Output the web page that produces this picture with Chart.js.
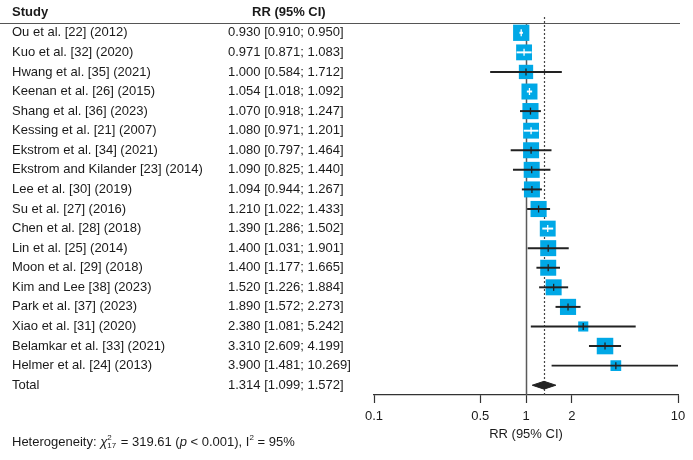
<!DOCTYPE html>
<html>
<head>
<meta charset="utf-8">
<script src="https://cdn.jsdelivr.net/npm/chart.js@4/dist/chart.umd.min.js"></script>
<style>
  html, body { margin: 0; padding: 0; background: #fff; }
  canvas { display: block; }
</style>
</head>
<body>
<canvas id="forest" width="693" height="460"></canvas>
<script>
// study rows, top to bottom
let studies = [
    'Ou et al. [22] (2012)', 'Kuo et al. [32] (2020)', 'Hwang et al. [35] (2021)',
    'Keenan et al. [26] (2015)', 'Shang et al. [36] (2023)', 'Kessing et al. [21] (2007)',
    'Ekstrom et al. [34] (2021)', 'Ekstrom and Kilander [23] (2014)', 'Lee et al. [30] (2019)',
    'Su et al. [27] (2016)', 'Chen et al. [28] (2018)', 'Lin et al. [25] (2014)',
    'Moon et al. [29] (2018)', 'Kim and Lee [38] (2023)', 'Park et al. [37] (2023)',
    'Xiao et al. [31] (2020)', 'Belamkar et al. [33] (2021)', 'Helmer et al. [24] (2013)'
];
let rr    = [0.930, 0.971, 1.000, 1.054, 1.070, 1.080, 1.080, 1.090, 1.094, 1.210, 1.390, 1.400, 1.400, 1.520, 1.890, 2.380, 3.310, 3.900];
let lower = [0.910, 0.871, 0.584, 1.018, 0.918, 0.971, 0.797, 0.825, 0.944, 1.022, 1.286, 1.031, 1.177, 1.226, 1.572, 1.081, 2.609, 1.481];
let upper = [0.950, 1.083, 1.712, 1.092, 1.247, 1.201, 1.464, 1.440, 1.267, 1.433, 1.502, 1.901, 1.665, 1.884, 2.273, 5.242, 4.199, 10.269];
// study weights in %
let weights = [6.2, 5.9, 4.8, 6.0, 6.1, 5.9, 6.0, 6.0, 6.0, 6.1, 5.9, 6.0, 6.0, 6.0, 6.1, 2.4, 6.4, 2.7];
let totalLabel = 'Total';
let totalRR = 1.314, totalLower = 1.099, totalUpper = 1.572;
let xTicks = [0.1, 0.5, 1, 2, 10];

const SQUARE_COLOR = '#00A8E6';
const LINE_COLOR = '#222';
const FONT = '"Liberation Sans", Arial, Helvetica, sans-serif';

function fmt(v) { return v.toFixed(3); }
function squareSide(w) { return 6.53 * Math.sqrt(w); }

let totalRow = studies.length;

// white line when the CI fits inside its square, like meta's forest()
function ciColor(ctx) {
    let i = ctx.dataIndex;
    let x = ctx.chart.scales.x;
    if (!x) return LINE_COLOR;
    let c = x.getPixelForValue(rr[i]);
    let h = squareSide(weights[i]) / 2;
    if (x.getPixelForValue(lower[i]) >= c - h && x.getPixelForValue(upper[i]) <= c + h) return '#fff';
    return LINE_COLOR;
}

let forestText = {
    id: 'forestText',
    beforeDatasetsDraw(chart) {
        let c = chart.ctx, x = chart.scales.x, area = chart.chartArea;
        c.save();
        // header rule
        c.strokeStyle = '#555';
        c.lineWidth = 1;
        c.beginPath();
        c.moveTo(0, area.top + 0.5);
        c.lineTo(area.right + 2, area.top + 0.5);
        c.stroke();
        // no effect line
        let x1 = Math.round(x.getPixelForValue(1)) + 0.5;
        c.strokeStyle = '#5a5a5a';
        c.lineWidth = 1.5;
        c.beginPath();
        c.moveTo(x1, area.top);
        c.lineTo(x1, area.bottom);
        c.stroke();
        // pooled estimate, dotted
        let xt = Math.round(x.getPixelForValue(totalRR)) + 0.5;
        c.strokeStyle = '#444';
        c.lineWidth = 1.2;
        c.setLineDash([2, 2]);
        c.beginPath();
        c.moveTo(xt, area.top - 6);
        c.lineTo(xt, area.bottom);
        c.stroke();
        c.restore();
    },
    afterDraw(chart) {
        let c = chart.ctx, y = chart.scales.y;
        c.save();
        c.fillStyle = '#1a1a1a';
        c.textAlign = 'left';
        c.textBaseline = 'alphabetic';
        c.font = 'bold 13px ' + FONT;
        c.fillText('Study', 12, 16);
        c.fillText('RR (95% CI)', 252, 16);

        c.font = '13px ' + FONT;
        c.textBaseline = 'middle';
        studies.forEach((s, i) => {
            let py = y.getPixelForValue(i);
            c.fillText(s, 12, py);
            c.fillText(fmt(rr[i]) + ' [' + fmt(lower[i]) + '; ' + fmt(upper[i]) + ']', 228, py);
        });
        let pt = y.getPixelForValue(totalRow);
        c.fillText(totalLabel, 12, pt);
        c.fillText(fmt(totalRR) + ' [' + fmt(totalLower) + '; ' + fmt(totalUpper) + ']', 228, pt);

        // heterogeneity line
        c.textBaseline = 'alphabetic';
        let bx = 12, by = 446;
        let put = (t, font, dy) => {
            c.font = font;
            c.fillText(t, bx, by + (dy || 0));
            return c.measureText(t).width;
        };
        bx += put('Heterogeneity: ', '13px ' + FONT);
        let chiW = put('\u03C7', 'italic 13px ' + FONT);
        let sx = bx + chiW;
        c.font = '8px ' + FONT;
        c.fillText('2', sx, by - 6);
        c.fillText('17', sx, by + 2);
        bx = sx + c.measureText('17').width + 1;
        bx += put(' = 319.61 (', '13px ' + FONT);
        bx += put('p', 'italic 13px ' + FONT);
        bx += put(' < 0.001), I', '13px ' + FONT);
        bx += put('2', '8px ' + FONT, -6);
        put(' = 95%', '13px ' + FONT);
        c.restore();
    }
};

let rows = studies.map((s, i) => i);

let chart = new Chart(document.getElementById('forest'), {
    type: 'bar',
    data: {
        datasets: [
            {
                // point estimate marks
                type: 'scatter',
                order: 0,
                data: rows.map(i => ({ x: rr[i], y: i })),
                pointStyle: 'line',
                rotation: 90,
                pointRadius: 3.5,
                borderWidth: 1.3,
                borderColor: ciColor
            },
            {
                // confidence intervals
                type: 'bar',
                order: 1,
                data: rows.map(i => ({ x: [lower[i], upper[i]], y: i })),
                barThickness: 1.3,
                grouped: false,
                backgroundColor: ciColor,
                borderWidth: 0
            },
            {
                // study squares
                type: 'scatter',
                order: 2,
                data: rows.map(i => ({ x: rr[i], y: i })),
                pointStyle: 'rect',
                pointRadius: rows.map(i => squareSide(weights[i]) / (2 * Math.SQRT1_2)),
                backgroundColor: SQUARE_COLOR,
                borderWidth: 0
            },
            {
                // pooled diamond
                type: 'line',
                order: 3,
                data: [
                    { x: totalLower, y: totalRow },
                    { x: totalRR, y: totalRow - 0.2 },
                    { x: totalUpper, y: totalRow },
                    { x: totalRR, y: totalRow + 0.2 },
                    { x: totalLower, y: totalRow }
                ],
                fill: 'shape',
                backgroundColor: '#222',
                borderColor: '#222',
                borderWidth: 1,
                pointRadius: 0,
                tension: 0
            }
        ]
    },
    options: {
        responsive: false,
        devicePixelRatio: 1,
        animation: false,
        indexAxis: 'y',
        layout: { padding: { left: 374, right: 15, top: 23, bottom: 0 } },
        plugins: {
            legend: { display: false },
            tooltip: { enabled: false }
        },
        scales: {
            x: {
                type: 'logarithmic',
                min: 0.1,
                max: 10,
                afterBuildTicks: (axis) => { axis.ticks = xTicks.map(v => ({ value: v })); },
                afterFit: (axis) => { axis.height = 65; },
                ticks: {
                    autoSkip: false,
                    maxRotation: 0,
                    padding: 6,
                    color: '#1a1a1a',
                    font: { family: FONT, size: 13 },
                    callback: (v) => String(v)
                },
                grid: {
                    drawOnChartArea: false,
                    drawTicks: true,
                    tickLength: 8,
                    tickColor: '#333',
                    tickWidth: 1.2
                },
                border: { display: true, color: '#333', width: 1.2 },
                title: {
                    display: true,
                    text: 'RR (95% CI)',
                    color: '#1a1a1a',
                    font: { family: FONT, size: 13 },
                    padding: { top: 0, bottom: 18 }
                }
            },
            y: {
                type: 'linear',
                reverse: true,
                offset: false,
                grid: { offset: false },
                min: -0.5,
                max: totalRow + 0.5,
                display: false
            }
        }
    },
    plugins: [forestText]
});
</script>
</body>
</html>
